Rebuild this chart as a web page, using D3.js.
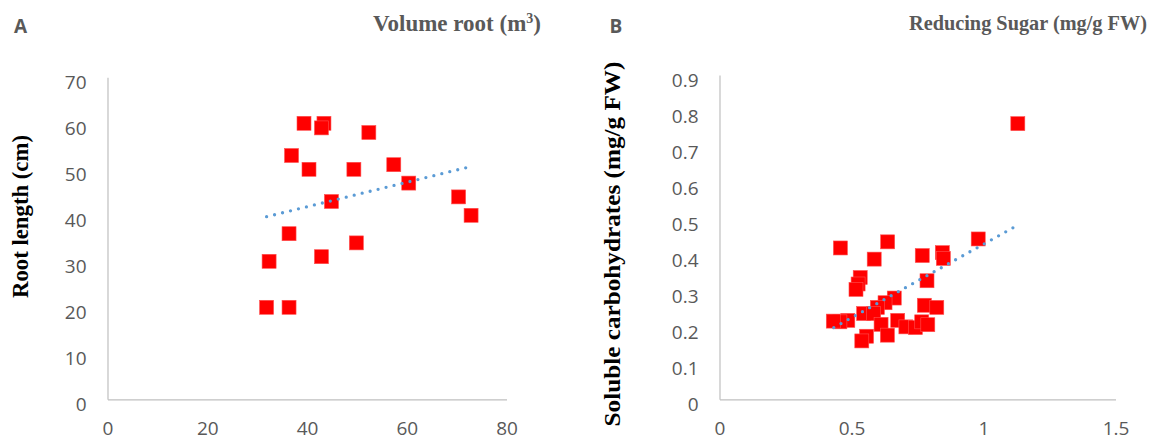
<!DOCTYPE html>
<html>
<head>
<meta charset="utf-8">
<script src="https://cdn.jsdelivr.net/npm/d3@7"></script>
<style>
  html, body { margin: 0; padding: 0; background: #fff; }
  svg { display: block; }
</style>
</head>
<body>
<div id="chart"></div>
<script>
// ---------- Data ----------
// Panel A: Volume root (x) vs Root length (y)
const volumeRoot = [39.4, 43.4, 42.9, 52.4, 36.9, 40.4, 49.4, 57.4, 60.4, 44.9, 70.4, 72.9, 36.4, 49.9, 32.4, 42.9, 31.9, 36.4];
const rootLength = [60, 60, 59, 58, 53, 50, 50, 51, 47, 43, 44, 40, 36, 34, 30, 31, 20, 20];
const xTicksA = [0, 20, 40, 60, 80];
const yTicksA = [0, 10, 20, 30, 40, 50, 60, 70];
// Linear trendline end points
const trendAx = [31.9, 72.1];
const trendAy = [39.7, 50.4];

// Panel B: Reducing sugar (x) vs Soluble carbohydrates (y)
const reducingSugar = [1.13, 0.98, 0.458, 0.637, 0.586, 0.768, 0.844, 0.848, 0.533, 0.525, 0.517, 0.786,
  0.662, 0.627, 0.598, 0.546, 0.584, 0.486, 0.456, 0.431, 0.612, 0.636, 0.557, 0.539,
  0.675, 0.706, 0.742, 0.766, 0.789, 0.776, 0.823];
const solubleCarb = [0.765, 0.445, 0.42, 0.437, 0.389, 0.399, 0.407, 0.391, 0.338, 0.32, 0.305, 0.329,
  0.281, 0.268, 0.255, 0.238, 0.238, 0.219, 0.215, 0.217, 0.208, 0.178, 0.175, 0.162,
  0.219, 0.201, 0.199, 0.215, 0.207, 0.261, 0.255];
const xTicksB = [0, 0.5, 1, 1.5];
const yTicksB = [0, 0.1, 0.2, 0.3, 0.4, 0.5, 0.6, 0.7, 0.8, 0.9];
const trendBx = [0.433, 1.119];
const trendBy = [0.199, 0.479];

// ---------- Layout ----------
const W = 1157, H = 441;
const svg = d3.select("#chart").append("svg")
  .attr("width", W).attr("height", H)
  .style("background", "#fff");

const tickFont = "'Open Sans', 'Noto Sans', sans-serif";
const serif = "'Liberation Serif', 'DejaVu Serif', serif";
const grayText = "#595959";
const axisColor = "#BFBFBF";
const markerColor = "#FF0000";
const trendColor = "#5B9BD5";

function panel(opts) {
  const { xs, ys, tx, ty, xDomain, yDomain, xRange, yRange, xTicks, yTicks, fmt } = opts;
  const x = d3.scaleLinear().domain(xDomain).range(xRange);
  const y = d3.scaleLinear().domain(yDomain).range(yRange);
  const g = svg.append("g");

  // Y axis
  const ya = g.append("g").attr("transform", `translate(${xRange[0]},0)`)
    .call(d3.axisLeft(y).tickValues(yTicks).tickSize(0).tickSizeOuter(0).tickPadding(21).tickFormat(fmt));
  ya.select(".domain").attr("stroke", axisColor).attr("stroke-width", 1.2);
  ya.selectAll("text").attr("dy", null).attr("y", 11)
    .style("font-family", tickFont).style("font-size", "19px").attr("fill", grayText);

  // X axis
  const xa = g.append("g").attr("transform", `translate(0,${yRange[0]})`)
    .call(d3.axisBottom(x).tickValues(xTicks).tickSize(0).tickSizeOuter(0).tickFormat(fmt));
  xa.select(".domain").attr("stroke", axisColor).attr("stroke-width", 1.2);
  xa.selectAll("text").attr("dy", null).attr("y", 35.5)
    .style("font-family", tickFont).style("font-size", "19px").attr("fill", grayText);

  // Markers
  const data = xs.map((v, i) => ({ x: v, y: ys[i] }));
  const s = 14;
  g.append("g").selectAll("rect").data(data).join("rect")
    .attr("x", d => x(d.x) - s / 2).attr("y", d => y(d.y) - s / 2)
    .attr("width", s).attr("height", s)
    .attr("fill", markerColor).attr("stroke", "#FF5050").attr("stroke-width", 0.6);

  // Linear trendline (dotted)
  const line = d3.line().x(d => x(d[0])).y(d => y(d[1]));
  g.append("path")
    .attr("d", line(tx.map((v, i) => [v, ty[i]])))
    .attr("fill", "none")
    .attr("stroke", trendColor).attr("stroke-width", 3.3)
    .attr("stroke-linecap", "round").attr("stroke-dasharray", "0 8.2");
}

const fmt = d => String(+d.toFixed(1));

panel({ xs: volumeRoot, ys: rootLength, tx: trendAx, ty: trendAy, xDomain: [0, 80], yDomain: [0, 70],
  xRange: [107.5, 506.5], yRange: [399.3, 77.3], xTicks: xTicksA, yTicks: yTicksA, fmt });
panel({ xs: reducingSugar, ys: solubleCarb, tx: trendBx, ty: trendBy, xDomain: [0, 1.5], yDomain: [0, 0.9],
  xRange: [719.5, 1115.5], yRange: [399.3, 75], xTicks: xTicksB, yTicks: yTicksB, fmt });

// Panel letters
svg.append("text").attr("x", 14).attr("y", 32.5).text("A")
  .style("font-family", tickFont).style("font-weight", "bold").style("font-size", "19px").attr("fill", grayText);
svg.append("text").attr("x", 609.5).attr("y", 32.5).text("B")
  .style("font-family", tickFont).style("font-weight", "bold").style("font-size", "19px").attr("fill", grayText);

// Top titles
const tA = svg.append("text").attr("x", 373).attr("y", 30.5)
  .style("font-family", serif).style("font-weight", "bold").style("font-size", "23px").attr("fill", grayText)
  .attr("textLength", 168).attr("lengthAdjust", "spacingAndGlyphs");
tA.append("tspan").text("Volume root (m");
tA.append("tspan").text("3").attr("dy", -8).style("font-size", "14px");
tA.append("tspan").text(")").attr("dy", 8);

svg.append("text").attr("x", 909).attr("y", 29.5).text("Reducing Sugar (mg/g FW)")
  .style("font-family", serif).style("font-weight", "bold").style("font-size", "21px").attr("fill", grayText)
  .attr("textLength", 238).attr("lengthAdjust", "spacingAndGlyphs");

// Y axis titles
svg.append("text").attr("transform", "translate(28,216.5) rotate(-90)")
  .attr("text-anchor", "middle").text("Root length (cm)")
  .style("font-family", serif).style("font-weight", "bold").style("font-size", "24px").attr("fill", "#000")
  .attr("textLength", 163).attr("lengthAdjust", "spacingAndGlyphs");
svg.append("text").attr("transform", "translate(619.5,244) rotate(-90)")
  .attr("text-anchor", "middle").text("Soluble carbohydrates (mg/g FW)")
  .style("font-family", serif).style("font-weight", "bold").style("font-size", "24px").attr("fill", "#000")
  .attr("textLength", 365).attr("lengthAdjust", "spacingAndGlyphs");
</script>
</body>
</html>
